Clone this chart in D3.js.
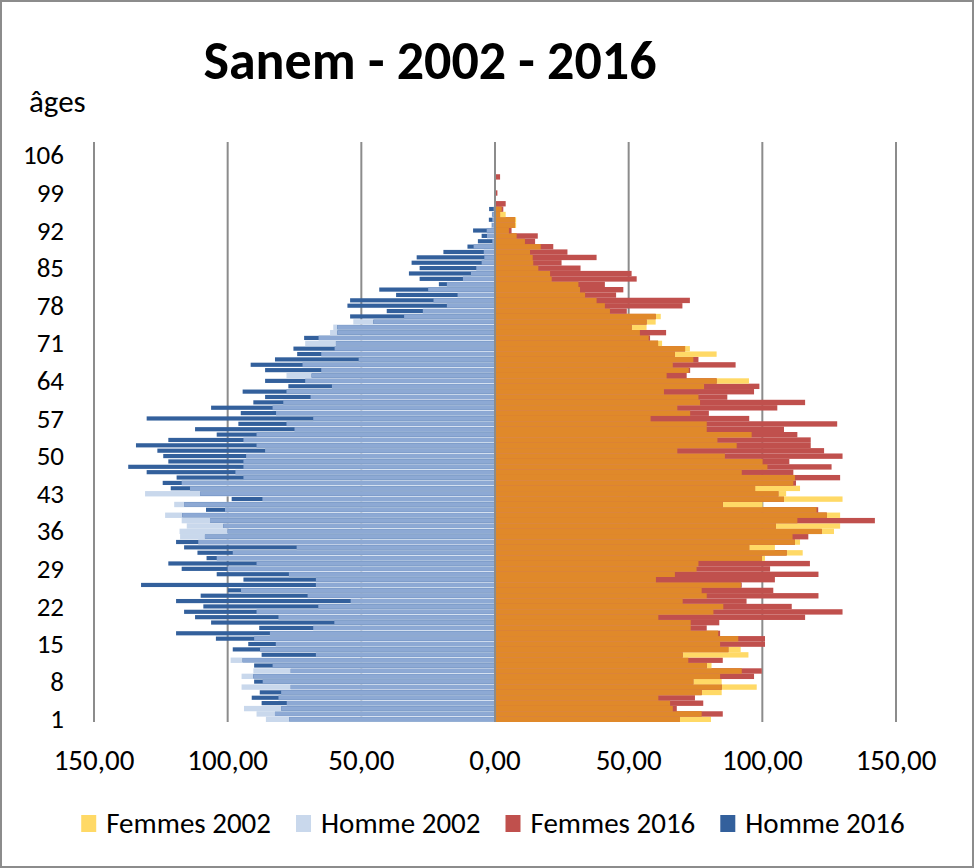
<!DOCTYPE html>
<html>
<head>
<meta charset="utf-8">
<script src="https://cdn.jsdelivr.net/npm/d3@7"></script>
<style>
  body { margin: 0; background: #fff; }
  svg text { font-family: Carlito, Calibri, "Liberation Sans", sans-serif; fill: #000; }
</style>
</head>
<body>
<div id="chart"></div>
<script>
// ages 1..106 (index 0 = age 1)
const femmes2002 = [
  80.8, 77.3, 66.5, 65.5, 61.1, 84.8, 97.9, 84.8, 84.2, 92.3,
  81.0, 72.3, 94.8, 91.9, 84.2, 91.0, 83.5, 73.2, 73.2, 61.1,
  81.7, 85.4, 70.2, 79.2, 77.3, 92.0, 60.2, 67.3, 75.4, 76.1,
  101.0, 115.1, 104.7, 114.1, 111.3, 126.8, 129.1, 113.1, 129.1, 120.3,
  100.1, 130.0, 108.9, 114.1, 111.6, 112.2, 92.3, 101.9, 100.1, 86.0,
  68.2, 90.4, 83.2, 96.0, 79.2, 79.2, 58.2, 73.0, 68.2, 76.7,
  76.1, 63.2, 78.2, 95.0, 64.2, 72.5, 66.5, 74.2, 82.9, 72.9,
  62.5, 57.5, 54.2, 56.7, 60.1, 62.0, 43.0, 41.1, 38.0, 33.7,
  31.8, 31.2, 21.2, 20.6, 16.2, 14.3, 14.1, 13.1, 17.1, 11.2,
  8.1, 5.2, 7.9, 7.9, 4.0, 2.5, 0, 0, 0, 0,
  0, 0, 0, 0, 0, 0
];
const homme2002 = [
  85.7, 89.2, 93.9, 77.9, 81.0, 80.0, 94.8, 86.9, 94.8, 90.4,
  83.2, 98.9, 67.0, 87.9, 82.0, 90.1, 84.2, 68.0, 60.1, 81.0,
  89.2, 66.1, 54.0, 70.1, 95.0, 67.0, 67.0, 77.1, 100.0, 89.2,
  104.1, 98.1, 74.2, 111.0, 117.8, 118.0, 115.3, 117.2, 123.4, 101.0,
  120.0, 87.0, 130.9, 114.1, 117.2, 94.1, 97.1, 94.1, 94.1, 93.1,
  86.0, 89.2, 94.1, 89.2, 75.0, 78.0, 68.0, 81.9, 83.2, 79.2,
  69.0, 78.0, 61.0, 71.0, 78.0, 65.0, 72.0, 51.0, 65.0, 60.0,
  71.0, 66.0, 61.7, 60.5, 53.0, 34.0, 27.0, 18.0, 23.0, 14.0,
  25.0, 18.0, 12.0, 9.0, 7.0, 5.0, 4.0, 4.2, 8.0, 1.0,
  3.0, 3.1, 1.5, 1.0, 1.2, 0.5, 0, 0, 0, 0,
  0, 0, 0, 0, 0, 0
];
const femmes2016 = [
  69.2, 85.2, 68.0, 77.9, 74.8, 77.3, 84.8, 74.2, 96.9, 99.8,
  79.2, 85.2, 70.2, 87.3, 101.0, 101.0, 84.2, 79.2, 83.9, 116.0,
  130.0, 111.0, 94.1, 121.0, 104.1, 92.3, 104.7, 121.0, 102.9, 117.8,
  99.8, 109.1, 95.1, 112.2, 117.2, 122.2, 105.1, 142.1, 124.1, 120.9,
  85.2, 108.1, 106.0, 97.3, 112.6, 129.1, 111.6, 125.9, 110.1, 130.0,
  123.1, 118.1, 118.1, 113.1, 108.1, 128.0, 95.1, 80.0, 105.6, 116.0,
  86.9, 96.9, 98.9, 82.9, 71.7, 73.0, 90.0, 76.1, 67.3, 71.1,
  61.0, 58.0, 64.0, 51.1, 56.7, 60.1, 49.3, 70.1, 72.9, 45.3,
  48.0, 41.1, 53.0, 51.1, 32.0, 24.9, 38.0, 27.1, 21.8, 15.0,
  16.0, 6.2, 7.5, 7.5, 1.9, 3.1, 4.0, 0, 0.9, 0,
  0, 1.9, 0, 0, 0, 0
];
const homme2016 = [
  77.0, 82.3, 80.0, 87.3, 91.0, 88.0, 76.4, 90.1, 90.4, 76.4,
  90.1, 94.4, 87.3, 98.1, 92.3, 104.4, 119.3, 88.2, 106.2, 112.2,
  116.3, 109.1, 119.3, 110.1, 100.0, 132.4, 94.1, 104.1, 117.2, 122.2,
  107.9, 111.3, 116.3, 119.3, 108.5, 100.0, 101.6, 106.6, 117.0, 108.1,
  116.3, 98.5, 110.3, 121.3, 124.3, 119.1, 130.3, 137.2, 122.2, 124.1,
  126.3, 134.3, 122.2, 104.1, 112.2, 96.0, 130.3, 95.1, 106.2, 90.4,
  86.0, 94.4, 77.3, 86.0, 68.6, 86.0, 91.4, 82.3, 74.0, 75.4,
  59.5, 71.4, 59.0, 59.0, 45.5, 54.2, 40.5, 55.2, 54.2, 37.0,
  43.3, 21.0, 28.2, 32.2, 28.2, 31.2, 29.3, 19.3, 10.3, 6.4,
  5.0, 8.2, 1.0, 2.3, 1.0, 2.2, 0, 0, 0, 0,
  0, 0, 0, 0, 0, 0
];
const ages = d3.range(1, 109);            // category axis 1..108
const ageLabels = d3.range(1, 107, 7);    // 1, 8, ... 106
const xTicks = [-150, -100, -50, 0, 50, 100, 150];
const legendItems = ['Femmes 2002', 'Homme 2002', 'Femmes 2016', 'Homme 2016'];

const col = {
    f02: '#FFD966', m02: '#C9D8EC', f16: '#C0504D', m16: '#33609C',
    fBoth: '#E0892A', mBoth: '#8DA9D4', grid: '#8c8c8c'
};
const legendColors = [col.f02, col.m02, col.f16, col.m16];

const W = 974, H = 868;
const svg = d3.select('#chart').append('svg')
    .attr('width', W).attr('height', H);

svg.append('rect')
    .attr('x', 1).attr('y', 1).attr('width', W - 2).attr('height', H - 2)
    .attr('fill', '#fff').attr('stroke', '#8c8c8c').attr('stroke-width', 2);

const x = d3.scaleLinear().domain([-150, 150]).range([94, 896]);
const y = d3.scaleBand().domain(ages).range([722, 142]).padding(0);
const bw = y.bandwidth();

const val = (arr, a) => arr[a - 1] || 0;

// gridlines
svg.append('g').selectAll('line')
    .data(xTicks.filter(d => d !== 0))
    .enter().append('line')
    .attr('x1', d => x(d)).attr('x2', d => x(d))
    .attr('y1', 142).attr('y2', 722)
    .attr('stroke', col.grid).attr('stroke-width', 2);

const rows = svg.append('g').selectAll('g')
    .data(ages)
    .enter().append('g')
    .attr('transform', a => `translate(0,${y(a)})`);

// hommes (left)
rows.append('rect')
    .attr('x', a => x(-val(homme2002, a)))
    .attr('width', a => x(0) - x(-val(homme2002, a)))
    .attr('height', bw).attr('fill', col.m02);
rows.append('rect')
    .attr('x', a => x(-val(homme2016, a)))
    .attr('y', 0.5)
    .attr('width', a => x(0) - x(-val(homme2016, a)))
    .attr('height', bw - 1.2).attr('fill', col.m16);
rows.append('rect')
    .attr('x', a => x(-Math.min(val(homme2002, a), val(homme2016, a))))
    .attr('y', 0.5)
    .attr('width', a => x(0) - x(-Math.min(val(homme2002, a), val(homme2016, a))))
    .attr('height', bw - 1.2).attr('fill', col.mBoth);

// femmes (right)
rows.append('rect')
    .attr('x', x(0))
    .attr('width', a => x(val(femmes2002, a)) - x(0))
    .attr('height', bw).attr('fill', col.f02);
rows.append('rect')
    .attr('x', x(0))
    .attr('width', a => x(val(femmes2016, a)) - x(0))
    .attr('height', bw).attr('fill', col.f16);
rows.append('rect')
    .attr('x', x(0))
    .attr('width', a => x(Math.min(val(femmes2002, a), val(femmes2016, a))) - x(0))
    .attr('height', bw).attr('fill', col.fBoth);

// centre axis
svg.append('line')
    .attr('x1', x(0)).attr('x2', x(0))
    .attr('y1', 142).attr('y2', 722)
    .attr('stroke', col.grid).attr('stroke-width', 2);

// age labels
svg.append('g').selectAll('text')
    .data(ageLabels)
    .enter().append('text')
    .attr('x', 64)
    .attr('y', a => y(a) + bw / 2 + 9)
    .attr('text-anchor', 'end')
    .attr('font-size', 27)
    .text(a => a);

// value labels
const fmt = d => d3.format('.2f')(Math.abs(d)).replace('.', ',');
svg.append('g').selectAll('text')
    .data(xTicks)
    .enter().append('text')
    .attr('x', d => x(d))
    .attr('y', 770)
    .attr('text-anchor', 'middle')
    .attr('font-size', 29)
    .text(fmt);

svg.append('text')
    .attr('x', 430).attr('y', 79)
    .attr('text-anchor', 'middle')
    .attr('font-size', 54).attr('font-weight', 'bold')
    .text('Sanem - 2002 - 2016');

svg.append('text')
    .attr('x', 29).attr('y', 112)
    .attr('font-size', 31)
    .text('âges');

// legend
const leg = svg.append('g');
let lx = 0;
legendItems.forEach((name, i) => {
    const g = leg.append('g').attr('transform', `translate(${lx},0)`);
    g.append('rect').attr('x', 0).attr('y', -18).attr('width', 15).attr('height', 17)
        .attr('fill', legendColors[i]);
    const t = g.append('text').attr('x', 25).attr('y', 0)
        .attr('font-size', 29).text(name);
    lx += 25 + t.node().getComputedTextLength() + 25;
});
const legW = lx - 25;
leg.attr('transform', `translate(${493 - legW / 2},833)`);
</script>
</body>
</html>
